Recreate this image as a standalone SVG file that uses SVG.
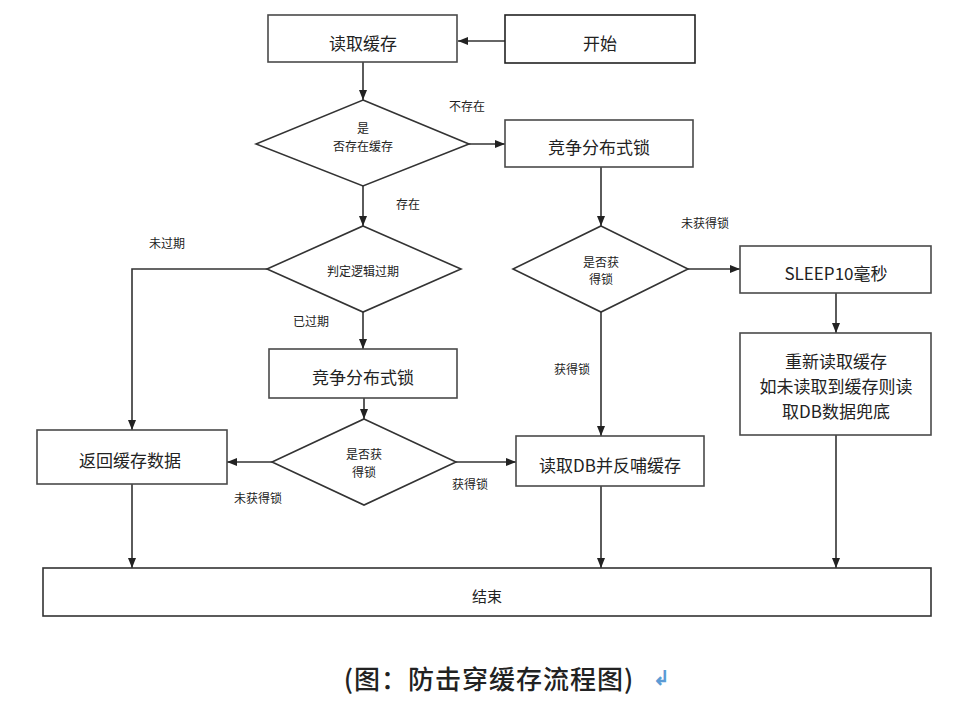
<svg xmlns="http://www.w3.org/2000/svg" width="954" height="714" viewBox="0 0 954 714">
<style>
.box{fill:#fff;stroke:#4a4a4a;stroke-width:1.6}
.dia{fill:#fff;stroke:#333;stroke-width:1.6}
.t{font-family:"Noto Sans CJK SC","Noto Sans",sans-serif;fill:#222;text-anchor:middle;dominant-baseline:central}
.big{font-size:17px}
.sm{font-size:12px}
.ln{fill:none;stroke:#333;stroke-width:1.6}
</style>
<defs>
<marker id="ah" viewBox="0 0 10 10" refX="10" refY="5" markerWidth="10" markerHeight="10" markerUnits="userSpaceOnUse" orient="auto">
<path d="M0,1 L10,5 L0,9 Z" fill="#222"/>
</marker>
</defs>
<rect width="954" height="714" fill="#fff"/>
<g id="connectors">
<path class="ln" d="M505,41 H458" marker-end="url(#ah)"/>
<path class="ln" d="M363,62 V100" marker-end="url(#ah)"/>
<path class="ln" d="M469,144 H505" marker-end="url(#ah)"/>
<path class="ln" d="M363,186 V226" marker-end="url(#ah)"/>
<path class="ln" d="M267,269 H132 V430" marker-end="url(#ah)"/>
<path class="ln" d="M363,312 V349" marker-end="url(#ah)"/>
<path class="ln" d="M364,398 V419" marker-end="url(#ah)"/>
<path class="ln" d="M272,462 H227" marker-end="url(#ah)"/>
<path class="ln" d="M456,462 H516" marker-end="url(#ah)"/>
<path class="ln" d="M601,167 V226" marker-end="url(#ah)"/>
<path class="ln" d="M688,269 H740" marker-end="url(#ah)"/>
<path class="ln" d="M836,293 V333" marker-end="url(#ah)"/>
<path class="ln" d="M601,312 V436" marker-end="url(#ah)"/>
<path class="ln" d="M132,484 V568" marker-end="url(#ah)"/>
<path class="ln" d="M601,486 V568" marker-end="url(#ah)"/>
<path class="ln" d="M836,435 V568" marker-end="url(#ah)"/>
<text class="t sm" x="467" y="105">不存在</text>
<text class="t sm" x="408" y="203">存在</text>
<text class="t sm" x="167" y="242">未过期</text>
<text class="t sm" x="311" y="320">已过期</text>
<text class="t sm" x="258" y="497">未获得锁</text>
<text class="t sm" x="470" y="483">获得锁</text>
<text class="t sm" x="705" y="222">未获得锁</text>
<text class="t sm" x="572" y="368">获得锁</text>
</g>
<g id="read-cache">
<rect class="box" x="268" y="15" width="189" height="47"/>
<text class="t big" x="363" y="42">读取缓存</text>
</g>
<g id="start">
<rect class="box" x="505" y="15" width="190" height="48" style="stroke:#222"/>
<text class="t big" x="600" y="42">开始</text>
</g>
<g id="exists-cache">
<polygon class="dia" points="363,100 469,144 363,186 256,144"/>
<text class="t sm" x="363" y="127">是</text>
<text class="t sm" x="363" y="145">否存在缓存</text>
</g>
<g id="lock1">
<rect class="box" x="505" y="120" width="188" height="47"/>
<text class="t big" x="599" y="146">竞争分布式锁</text>
</g>
<g id="check-expire">
<polygon class="dia" points="363,226 461,269 363,312 267,269"/>
<text class="t sm" x="363" y="270">判定逻辑过期</text>
</g>
<g id="lock2">
<rect class="box" x="269" y="349" width="188" height="49"/>
<text class="t big" x="363" y="376">竞争分布式锁</text>
</g>
<g id="got-lock2">
<polygon class="dia" points="364,419 456,462 364,505 272,462"/>
<text class="t sm" x="364" y="453">是否获</text>
<text class="t sm" x="364" y="471">得锁</text>
</g>
<g id="return-cache">
<rect class="box" x="37" y="430" width="190" height="54"/>
<text class="t big" x="130" y="459">返回缓存数据</text>
</g>
<g id="read-db">
<rect class="box" x="516" y="436" width="188" height="50"/>
<text class="t big" x="610" y="464">读取DB并反哺缓存</text>
</g>
<g id="got-lock1">
<polygon class="dia" points="601,226 688,269 601,312 513,269"/>
<text class="t sm" x="601" y="261">是否获</text>
<text class="t sm" x="601" y="278">得锁</text>
</g>
<g id="sleep">
<rect class="box" x="740" y="246" width="191" height="47"/>
<text class="t big" x="836" y="272">SLEEP10毫秒</text>
</g>
<g id="reread">
<rect class="box" x="740" y="333" width="191" height="102"/>
<text class="t big" x="836" y="360">重新读取缓存</text>
<text class="t big" x="836" y="385">如未读取到缓存则读</text>
<text class="t big" x="836" y="410">取DB数据兜底</text>
</g>
<g id="end">
<rect class="box" x="43" y="568" width="888" height="48" style="stroke:#333"/>
<text class="t" style="font-size:15px" x="487" y="595">结束</text>
</g>
<text class="t" style="font-size:26px;font-weight:500;letter-spacing:1px" x="489" y="677">(图：防击穿缓存流程图)</text>
<text class="t" style="font-size:20px;font-weight:bold;fill:#5b9bd5" x="661" y="676">↲</text>
</svg>
